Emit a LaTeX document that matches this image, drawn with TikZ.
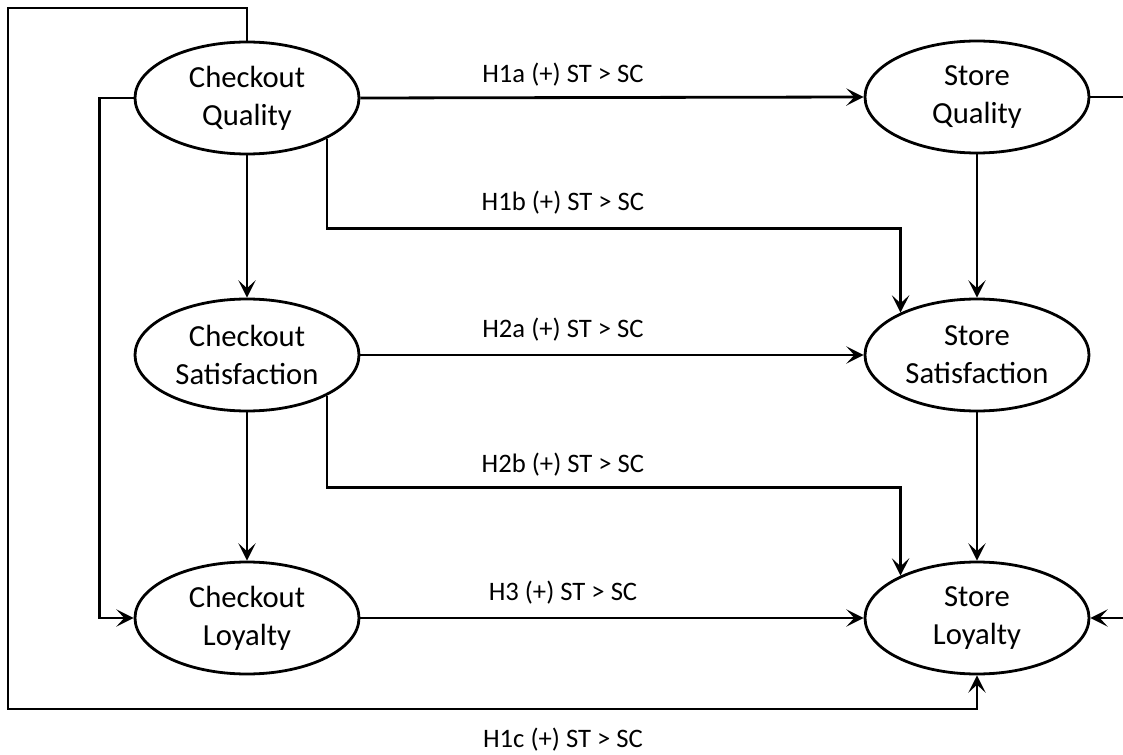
\documentclass[tikz,border=0pt]{standalone}
\usepackage{fontspec}
\setmainfont{Carlito}
\usetikzlibrary{shapes.geometric,arrows.meta}
\begin{document}
\begin{tikzpicture}[x=0.75pt,y=-0.75pt,
  construct/.style={ellipse,draw,line width=2.1pt,minimum width=168pt,minimum height=84pt,inner sep=0pt,align=center,font=\fontsize{23}{28.5}\selectfont},
  hyp/.style={font=\fontsize{20}{24}\selectfont,inner sep=0pt},
  link/.style={line width=2.1pt,-{Stealth[length=13pt,width=13pt,inset=6pt]}},
  plain/.style={line width=2.1pt}]
\clip (0,0) rectangle (1123,755);
\node[construct] (CQ) at (247,98) {Checkout\\Quality};
\node[construct] (CS) at (247,355) {Checkout\\Satisfaction};
\node[construct] (CL) at (247,618) {Checkout\\Loyalty};
\node[construct] (SQ) at (977,97) {Store\\Quality};
\node[construct] (SS) at (977,355) {Store\\Satisfaction};
\node[construct] (SL) at (977,618) {Store\\Loyalty};
\node[hyp] (h1a) at (563,75) {H1a (+) ST > SC};
\node[hyp] (h1b) at (563,203) {H1b (+) ST > SC};
\node[hyp] (h2a) at (563,330) {H2a (+) ST > SC};
\node[hyp] (h2b) at (563,465) {H2b (+) ST > SC};
\node[hyp] (h3) at (563,593) {H3 (+) ST > SC};
\node[hyp] (h1c) at (563,740) {H1c (+) ST > SC};
\coordinate (tl) at (8,8);
\coordinate (bl) at (8,709);
% horizontal paths
\draw[link] (CQ.east) -- (SQ.west);
\draw[link] (CS.east) -- (SS.west);
\draw[link] (CL.east) -- (SL.west);
% verticals
\draw[link] (CQ.south) -- (CS.north);
\draw[link] (CS.south) -- (CL.north);
\draw[link] (SQ.south) -- (SS.north);
\draw[link] (SS.south) -- (SL.north);
% elbow paths
\draw[link] (CQ.-27) -- ++(0,90) -| (SS.151);
\draw[link] (CS.-27) -- ++(0,92) -| (SL.151);
\draw[link] (CQ.west) -- ++(-34,0) |- (CL.west);
\draw[link] (CQ.north) |- (tl) -- (bl) -| (SL.south);
\draw[link] (SQ.east) -- ++(60,0) |- (SL.east);
\end{tikzpicture}
\end{document}
